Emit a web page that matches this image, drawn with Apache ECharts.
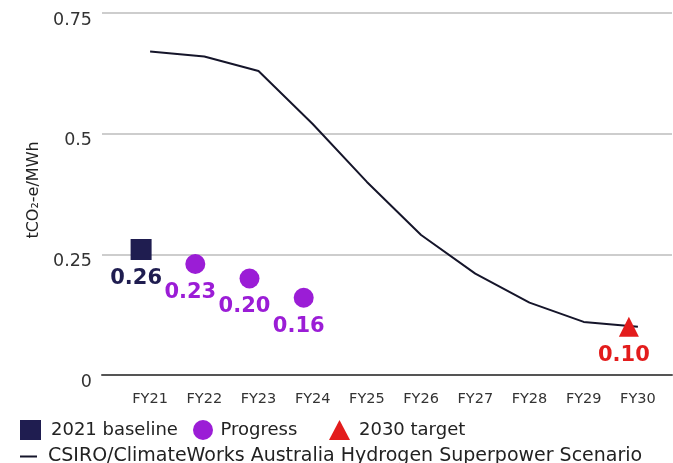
<!DOCTYPE html>
<html>
<head>
<meta charset="utf-8">
<script src="https://cdn.jsdelivr.net/npm/echarts@6/dist/echarts.min.js"></script>
<style>
  html, body { margin: 0; padding: 0; background: #fff; }
  #chart { width: 673px; height: 463px; }
</style>
</head>
<body>
<div id="chart"></div>
<script>
// Emissions intensity pathway, FY21 to FY30
const categories = ['FY21', 'FY22', 'FY23', 'FY24', 'FY25', 'FY26', 'FY27', 'FY28', 'FY29', 'FY30'];
const yTicks = [0, 0.25, 0.5, 0.75];
const scenario = [0.67, 0.66, 0.63, 0.52, 0.40, 0.29, 0.21, 0.15, 0.11, 0.10];
const baseline = [0.26, null, null, null, null, null, null, null, null, null];
const progress = [null, 0.23, 0.20, 0.16, null, null, null, null, null, null];
const target = [null, null, null, null, null, null, null, null, null, 0.10];

const FONT = 'DejaVu Sans';
const NAVY = '#1f1d50';
const PURPLE = '#9b1dd6';
const RED = '#e31c1c';
const INK = '#15152a';

const yMin = yTicks[0], yMax = yTicks[yTicks.length - 1], yStep = yTicks[1] - yTicks[0];

function pointLabel(color) {
  return {
    show: true,
    position: 'bottom',
    distance: 8,
    offset: [-5, 0],
    color: color,
    fontFamily: FONT,
    fontSize: 21,
    fontWeight: 'bold',
    formatter: p => p.value == null ? '' : Number(p.value).toFixed(2)
  };
}

function markerSeries(name, data, symbol, size, color) {
  return {
    name: name, type: 'scatter', xAxisIndex: 1, yAxisIndex: 1, data: data,
    symbol: symbol, symbolSize: size, symbolOffset: [-9, 0],
    itemStyle: { color: color, opacity: 1 },
    label: pointLabel(color),
    z: 3
  };
}

function legendItem(left, name, icon, gap) {
  return {
    left: left, top: 415, itemWidth: 21, itemHeight: 20,
    textStyle: { color: '#222', fontSize: 18, fontFamily: FONT, padding: [0, 0, 0, gap] },
    data: [{ name: name, icon: icon }]
  };
}

const chart = echarts.init(document.getElementById('chart'), null, { renderer: 'canvas' });
chart.setOption({
  animation: false,
  textStyle: { fontFamily: FONT },
  grid: [
    // wide grid carrying the horizontal gridlines and value labels
    { left: 102, right: 1, top: 13, bottom: 88 },
    // category grid for the plotted marks
    { left: 123, right: 8, top: 13, bottom: 88 }
  ],
  xAxis: [
    {
      gridIndex: 0, type: 'value', min: 0, max: 1,
      axisLine: { show: true, onZero: true, lineStyle: { color: '#555', width: 2 } },
      axisTick: { show: false }, axisLabel: { show: false }, splitLine: { show: false }
    },
    {
      gridIndex: 1, type: 'category', data: categories, boundaryGap: true,
      axisLine: { show: false }, axisTick: { show: false },
      axisLabel: { color: '#333', fontSize: 14.5, margin: 17, fontFamily: FONT },
      splitLine: { show: false }
    }
  ],
  yAxis: [
    {
      gridIndex: 0, type: 'value', min: yMin, max: yMax, interval: yStep,
      name: 'tCO\u2082-e/MWh', nameLocation: 'middle', nameGap: 58, nameRotate: 90,
      nameTextStyle: { color: '#222', fontSize: 16, fontFamily: FONT, padding: [0, 0, 0, 8] },
      axisLine: { show: false }, axisTick: { show: false },
      axisLabel: { color: '#333', fontSize: 17.5, margin: 10, fontFamily: FONT,
                   verticalAlign: 'top', lineHeight: 14,
                   formatter: v => String(Math.round(v * 100) / 100) },
      splitLine: { show: true, lineStyle: { color: '#bdbdbd', width: 1.5 } }
    },
    {
      gridIndex: 1, type: 'value', min: yMin, max: yMax, interval: yStep, show: false,
      splitLine: { show: false }
    }
  ],
  legend: [
    legendItem(15, '2021 baseline', 'rect', 5),
    legendItem(188, 'Progress', 'circle', 2),
    legendItem(324, '2030 target', 'triangle', 4),
    {
      left: 15, top: 442, itemWidth: 17, itemHeight: 2,
      textStyle: { color: '#222', fontSize: 19, fontFamily: FONT, padding: [0, 0, 0, 6] },
      data: [{ name: 'CSIRO/ClimateWorks Australia Hydrogen Superpower Scenario', icon: 'rect' }]
    }
  ],
  series: [
    {
      name: 'CSIRO/ClimateWorks Australia Hydrogen Superpower Scenario',
      type: 'line', xAxisIndex: 1, yAxisIndex: 1, data: scenario,
      showSymbol: false, symbol: 'none',
      lineStyle: { color: INK, width: 2 }, itemStyle: { color: INK }
    },
    markerSeries('2021 baseline', baseline, 'rect', 21, NAVY),
    markerSeries('Progress', progress, 'circle', 20, PURPLE),
    markerSeries('2030 target', target, 'triangle', 20, RED)
  ]
});
</script>
</body>
</html>
